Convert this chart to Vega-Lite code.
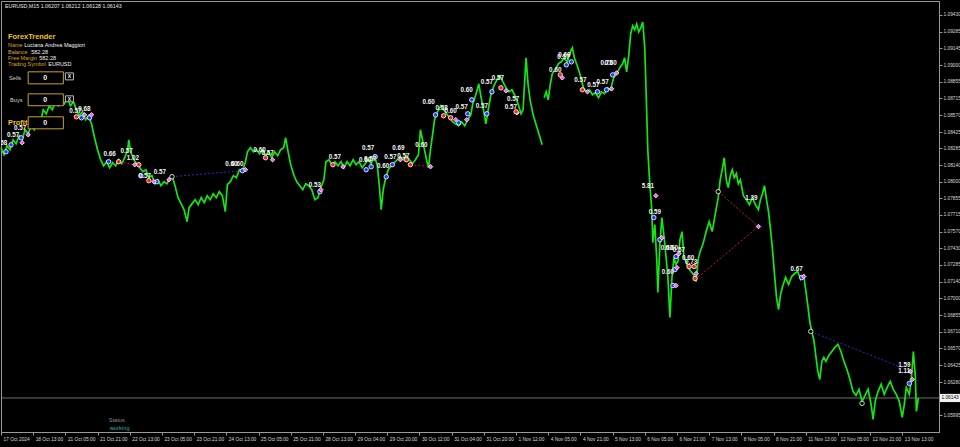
{
"$schema": "https://vega.github.io/schema/vega-lite/v6.json",
"width": 938, "height": 431,
"autosize": "none",
"padding": {"left": 1, "top": 1, "right": 21, "bottom": 15},
"background": "#000000",
"config": {"view": {"stroke": "#9a9a9a", "strokeWidth": 1}, "font": "Liberation Sans"},
"datasets": {
"price": [
{"b":0,"p":1.08291,"s":"A"},{"b":6,"p":1.08231,"s":"A"},{"b":12,"p":1.08308,"s":"A"},{"b":18,"p":1.08274,"s":"A"},{"b":24,"p":1.08359,"s":"A"},{"b":30,"p":1.08325,"s":"A"},{"b":36,"p":1.08393,"s":"A"},{"b":42,"p":1.08359,"s":"A"},{"b":48,"p":1.08445,"s":"A"},{"b":54,"p":1.08411,"s":"A"},{"b":60,"p":1.08479,"s":"A"},{"b":66,"p":1.08445,"s":"A"},{"b":72,"p":1.08531,"s":"A"},{"b":78,"p":1.08496,"s":"A"},{"b":84,"p":1.08616,"s":"A"},{"b":90,"p":1.08582,"s":"A"},{"b":96,"p":1.08651,"s":"A"},{"b":102,"p":1.08616,"s":"A"},{"b":108,"p":1.08685,"s":"A"},{"b":114,"p":1.08651,"s":"A"},{"b":120,"p":1.08702,"s":"A"},{"b":126,"p":1.08668,"s":"A"},{"b":132,"p":1.08719,"s":"A"},{"b":138,"p":1.08651,"s":"A"},{"b":144,"p":1.08685,"s":"A"},{"b":150,"p":1.08616,"s":"A"},{"b":156,"p":1.08565,"s":"A"},{"b":162,"p":1.08599,"s":"A"},{"b":168,"p":1.08531,"s":"A"},{"b":174,"p":1.08565,"s":"A"},{"b":180,"p":1.08496,"s":"A"},{"b":186,"p":1.08376,"s":"A"},{"b":192,"p":1.08274,"s":"A"},{"b":198,"p":1.08188,"s":"A"},{"b":204,"p":1.08136,"s":"A"},{"b":210,"p":1.08171,"s":"A"},{"b":216,"p":1.08119,"s":"A"},{"b":222,"p":1.08162,"s":"A"},{"b":228,"p":1.08136,"s":"A"},{"b":234,"p":1.08188,"s":"A"},{"b":240,"p":1.08154,"s":"A"},{"b":246,"p":1.08205,"s":"A"},{"b":252,"p":1.08274,"s":"A"},{"b":254,"p":1.08359,"s":"A"},{"b":258,"p":1.08256,"s":"A"},{"b":264,"p":1.08188,"s":"A"},{"b":270,"p":1.08154,"s":"A"},{"b":276,"p":1.08119,"s":"A"},{"b":282,"p":1.08085,"s":"A"},{"b":288,"p":1.08102,"s":"A"},{"b":294,"p":1.08034,"s":"A"},{"b":300,"p":1.08051,"s":"A"},{"b":306,"p":1.07982,"s":"A"},{"b":312,"p":1.08016,"s":"A"},{"b":318,"p":1.07965,"s":"A"},{"b":324,"p":1.07999,"s":"A"},{"b":330,"p":1.07982,"s":"A"},{"b":336,"p":1.08034,"s":"A"},{"b":340,"p":1.08051,"s":"A"},{"b":346,"p":1.07965,"s":"A"},{"b":352,"p":1.07862,"s":"A"},{"b":358,"p":1.07811,"s":"A"},{"b":364,"p":1.07759,"s":"A"},{"b":370,"p":1.07656,"s":"A"},{"b":374,"p":1.07776,"s":"A"},{"b":380,"p":1.07811,"s":"A"},{"b":386,"p":1.07845,"s":"A"},{"b":392,"p":1.07802,"s":"A"},{"b":398,"p":1.07862,"s":"A"},{"b":404,"p":1.07819,"s":"A"},{"b":410,"p":1.07879,"s":"A"},{"b":416,"p":1.07845,"s":"A"},{"b":422,"p":1.07896,"s":"A"},{"b":428,"p":1.07862,"s":"A"},{"b":434,"p":1.07914,"s":"A"},{"b":440,"p":1.07879,"s":"A"},{"b":446,"p":1.07742,"s":"A"},{"b":450,"p":1.07974,"s":"A"},{"b":456,"p":1.07999,"s":"A"},{"b":462,"p":1.08051,"s":"A"},{"b":468,"p":1.08034,"s":"A"},{"b":474,"p":1.08102,"s":"A"},{"b":480,"p":1.08085,"s":"A"},{"b":486,"p":1.08171,"s":"A"},{"b":490,"p":1.08256,"s":"A"},{"b":496,"p":1.08291,"s":"A"},{"b":502,"p":1.08256,"s":"A"},{"b":508,"p":1.08274,"s":"A"},{"b":514,"p":1.08239,"s":"A"},{"b":520,"p":1.08274,"s":"A"},{"b":526,"p":1.08222,"s":"A"},{"b":532,"p":1.08256,"s":"A"},{"b":538,"p":1.08205,"s":"A"},{"b":544,"p":1.08256,"s":"A"},{"b":550,"p":1.08222,"s":"A"},{"b":556,"p":1.08274,"s":"A"},{"b":562,"p":1.08291,"s":"A"},{"b":566,"p":1.08376,"s":"A"},{"b":570,"p":1.08274,"s":"A"},{"b":576,"p":1.08145,"s":"A"},{"b":582,"p":1.08059,"s":"A"},{"b":588,"p":1.07999,"s":"A"},{"b":594,"p":1.07965,"s":"A"},{"b":600,"p":1.07931,"s":"A"},{"b":606,"p":1.07982,"s":"A"},{"b":612,"p":1.07965,"s":"A"},{"b":618,"p":1.07931,"s":"A"},{"b":624,"p":1.07845,"s":"A"},{"b":630,"p":1.07862,"s":"A"},{"b":636,"p":1.07948,"s":"A"},{"b":642,"p":1.08016,"s":"A"},{"b":646,"p":1.08171,"s":"A"},{"b":652,"p":1.08188,"s":"A"},{"b":658,"p":1.08145,"s":"A"},{"b":664,"p":1.08171,"s":"A"},{"b":670,"p":1.08136,"s":"A"},{"b":676,"p":1.08171,"s":"A"},{"b":682,"p":1.08119,"s":"A"},{"b":688,"p":1.08171,"s":"A"},{"b":694,"p":1.08136,"s":"A"},{"b":700,"p":1.08188,"s":"A"},{"b":706,"p":1.08145,"s":"A"},{"b":712,"p":1.08171,"s":"A"},{"b":718,"p":1.08119,"s":"A"},{"b":724,"p":1.08154,"s":"A"},{"b":730,"p":1.08188,"s":"A"},{"b":736,"p":1.08154,"s":"A"},{"b":742,"p":1.08222,"s":"A"},{"b":748,"p":1.08145,"s":"A"},{"b":752,"p":1.07974,"s":"A"},{"b":756,"p":1.07759,"s":"A"},{"b":760,"p":1.07931,"s":"A"},{"b":764,"p":1.08016,"s":"A"},{"b":770,"p":1.08102,"s":"A"},{"b":776,"p":1.08136,"s":"A"},{"b":782,"p":1.08162,"s":"A"},{"b":788,"p":1.08188,"s":"A"},{"b":794,"p":1.08214,"s":"A"},{"b":800,"p":1.08188,"s":"A"},{"b":806,"p":1.08222,"s":"A"},{"b":812,"p":1.08188,"s":"A"},{"b":818,"p":1.08154,"s":"A"},{"b":824,"p":1.08188,"s":"A"},{"b":830,"p":1.08231,"s":"A"},{"b":834,"p":1.08445,"s":"A"},{"b":838,"p":1.08359,"s":"A"},{"b":842,"p":1.08274,"s":"A"},{"b":846,"p":1.08188,"s":"A"},{"b":850,"p":1.08119,"s":"A"},{"b":854,"p":1.08274,"s":"A"},{"b":858,"p":1.08402,"s":"A"},{"b":862,"p":1.08531,"s":"A"},{"b":868,"p":1.08599,"s":"A"},{"b":874,"p":1.08651,"s":"A"},{"b":880,"p":1.08616,"s":"A"},{"b":886,"p":1.08582,"s":"A"},{"b":892,"p":1.08548,"s":"A"},{"b":898,"p":1.08513,"s":"A"},{"b":904,"p":1.08496,"s":"A"},{"b":910,"p":1.08479,"s":"A"},{"b":916,"p":1.08513,"s":"A"},{"b":922,"p":1.08479,"s":"A"},{"b":928,"p":1.08531,"s":"A"},{"b":934,"p":1.08573,"s":"A"},{"b":938,"p":1.08668,"s":"A"},{"b":944,"p":1.08745,"s":"A"},{"b":950,"p":1.08839,"s":"A"},{"b":954,"p":1.08736,"s":"A"},{"b":960,"p":1.08599,"s":"A"},{"b":964,"p":1.08496,"s":"A"},{"b":968,"p":1.08599,"s":"A"},{"b":974,"p":1.08745,"s":"A"},{"b":980,"p":1.08822,"s":"A"},{"b":986,"p":1.08873,"s":"A"},{"b":992,"p":1.08908,"s":"A"},{"b":998,"p":1.08856,"s":"A"},{"b":1004,"p":1.08805,"s":"A"},{"b":1010,"p":1.08771,"s":"A"},{"b":1016,"p":1.08788,"s":"A"},{"b":1022,"p":1.08736,"s":"A"},{"b":1028,"p":1.08668,"s":"A"},{"b":1034,"p":1.08582,"s":"A"},{"b":1038,"p":1.08616,"s":"A"},{"b":1042,"p":1.08916,"s":"A"},{"b":1044,"p":1.09062,"s":"A"},{"b":1048,"p":1.08831,"s":"A"},{"b":1052,"p":1.08702,"s":"A"},{"b":1058,"p":1.08573,"s":"A"},{"b":1064,"p":1.08488,"s":"A"},{"b":1070,"p":1.08402,"s":"A"},{"b":1076,"p":1.08316,"s":"A"},
{"b":1080,"p":1.08719,"s":"B"},{"b":1084,"p":1.08771,"s":"B"},{"b":1088,"p":1.08702,"s":"B"},{"b":1092,"p":1.08831,"s":"B"},{"b":1096,"p":1.08925,"s":"B"},{"b":1102,"p":1.08959,"s":"B"},{"b":1108,"p":1.09011,"s":"B"},{"b":1114,"p":1.09028,"s":"B"},{"b":1120,"p":1.09062,"s":"B"},{"b":1126,"p":1.09028,"s":"B"},{"b":1132,"p":1.09113,"s":"B"},{"b":1136,"p":1.09148,"s":"B"},{"b":1140,"p":1.09062,"s":"B"},{"b":1146,"p":1.08993,"s":"B"},{"b":1152,"p":1.08908,"s":"B"},{"b":1158,"p":1.08805,"s":"B"},{"b":1164,"p":1.08771,"s":"B"},{"b":1170,"p":1.08788,"s":"B"},{"b":1176,"p":1.08745,"s":"B"},{"b":1182,"p":1.08762,"s":"B"},{"b":1188,"p":1.08719,"s":"B"},{"b":1194,"p":1.08771,"s":"B"},{"b":1200,"p":1.08753,"s":"B"},{"b":1206,"p":1.08805,"s":"B"},{"b":1212,"p":1.08788,"s":"B"},{"b":1218,"p":1.08891,"s":"B"},{"b":1224,"p":1.08925,"s":"B"},{"b":1230,"p":1.08976,"s":"B"},{"b":1236,"p":1.09011,"s":"B"},{"b":1240,"p":1.09062,"s":"B"},{"b":1244,"p":1.08942,"s":"B"},{"b":1248,"p":1.09079,"s":"B"},{"b":1252,"p":1.09268,"s":"B"},{"b":1256,"p":1.09336,"s":"B"},{"b":1260,"p":1.09302,"s":"B"},{"b":1264,"p":1.09353,"s":"B"},{"b":1268,"p":1.09285,"s":"B"},{"b":1272,"p":1.09319,"s":"B"},{"b":1276,"p":1.0937,"s":"B"},{"b":1280,"p":1.09148,"s":"B"},{"b":1284,"p":1.08573,"s":"B"},{"b":1286,"p":1.08274,"s":"B"},{"b":1290,"p":1.07974,"s":"B"},{"b":1294,"p":1.07759,"s":"B"},{"b":1296,"p":1.07476,"s":"B"},{"b":1300,"p":1.07631,"s":"B"},{"b":1304,"p":1.07314,"s":"B"},{"b":1306,"p":1.07048,"s":"B"},{"b":1310,"p":1.07459,"s":"B"},{"b":1314,"p":1.07691,"s":"B"},{"b":1320,"p":1.07459,"s":"B"},{"b":1326,"p":1.07177,"s":"B"},{"b":1330,"p":1.06834,"s":"B"},{"b":1334,"p":1.07177,"s":"B"},{"b":1338,"p":1.07348,"s":"B"},{"b":1342,"p":1.07288,"s":"B"},{"b":1346,"p":1.07314,"s":"B"},{"b":1350,"p":1.07502,"s":"B"},{"b":1354,"p":1.07571,"s":"B"},{"b":1358,"p":1.07348,"s":"B"},{"b":1362,"p":1.07314,"s":"B"},{"b":1366,"p":1.07262,"s":"B"},{"b":1372,"p":1.07228,"s":"B"},{"b":1378,"p":1.07194,"s":"B"},{"b":1382,"p":1.07142,"s":"B"},{"b":1386,"p":1.07331,"s":"B"},{"b":1390,"p":1.07399,"s":"B"},{"b":1396,"p":1.07468,"s":"B"},{"b":1402,"p":1.07571,"s":"B"},{"b":1408,"p":1.07656,"s":"B"},{"b":1414,"p":1.07571,"s":"B"},{"b":1420,"p":1.07716,"s":"B"},{"b":1426,"p":1.07862,"s":"B"},{"b":1430,"p":1.08016,"s":"B"},{"b":1434,"p":1.08102,"s":"B"},{"b":1438,"p":1.08205,"s":"B"},{"b":1442,"p":1.08016,"s":"B"},{"b":1446,"p":1.07948,"s":"B"},{"b":1450,"p":1.08051,"s":"B"},{"b":1454,"p":1.08102,"s":"B"},{"b":1458,"p":1.08034,"s":"B"},{"b":1462,"p":1.08068,"s":"B"},{"b":1466,"p":1.07982,"s":"B"},{"b":1470,"p":1.08016,"s":"B"},{"b":1476,"p":1.07879,"s":"B"},{"b":1482,"p":1.07845,"s":"B"},{"b":1488,"p":1.07802,"s":"B"},{"b":1494,"p":1.07862,"s":"B"},{"b":1500,"p":1.07802,"s":"B"},{"b":1506,"p":1.07759,"s":"B"},{"b":1510,"p":1.07845,"s":"B"},{"b":1514,"p":1.07896,"s":"B"},{"b":1518,"p":1.07965,"s":"B"},{"b":1522,"p":1.07845,"s":"B"},{"b":1526,"p":1.07742,"s":"B"},{"b":1530,"p":1.07588,"s":"B"},{"b":1534,"p":1.07416,"s":"B"},{"b":1538,"p":1.07202,"s":"B"},{"b":1542,"p":1.07005,"s":"B"},{"b":1546,"p":1.06902,"s":"B"},{"b":1550,"p":1.07031,"s":"B"},{"b":1554,"p":1.07099,"s":"B"},{"b":1560,"p":1.07177,"s":"B"},{"b":1566,"p":1.07117,"s":"B"},{"b":1572,"p":1.07185,"s":"B"},{"b":1578,"p":1.07211,"s":"B"},{"b":1584,"p":1.07228,"s":"B"},{"b":1590,"p":1.07159,"s":"B"},{"b":1596,"p":1.07194,"s":"B"},{"b":1600,"p":1.07074,"s":"B"},{"b":1604,"p":1.06945,"s":"B"},{"b":1608,"p":1.06799,"s":"B"},{"b":1612,"p":1.06714,"s":"B"},{"b":1616,"p":1.06645,"s":"B"},{"b":1620,"p":1.06508,"s":"B"},{"b":1624,"p":1.06371,"s":"B"},{"b":1628,"p":1.06302,"s":"B"},{"b":1632,"p":1.06457,"s":"B"},{"b":1636,"p":1.06491,"s":"B"},{"b":1640,"p":1.06457,"s":"B"},{"b":1646,"p":1.06508,"s":"B"},{"b":1652,"p":1.06542,"s":"B"},{"b":1658,"p":1.06577,"s":"B"},{"b":1664,"p":1.06602,"s":"B"},{"b":1670,"p":1.06542,"s":"B"},{"b":1676,"p":1.06457,"s":"B"},{"b":1682,"p":1.06388,"s":"B"},{"b":1688,"p":1.06302,"s":"B"},{"b":1694,"p":1.062,"s":"B"},{"b":1700,"p":1.06165,"s":"B"},{"b":1706,"p":1.06217,"s":"B"},{"b":1712,"p":1.06114,"s":"B"},{"b":1718,"p":1.06165,"s":"B"},{"b":1724,"p":1.06217,"s":"B"},{"b":1730,"p":1.06088,"s":"B"},{"b":1734,"p":1.0596,"s":"B"},{"b":1738,"p":1.06114,"s":"B"},{"b":1744,"p":1.062,"s":"B"},{"b":1750,"p":1.0626,"s":"B"},{"b":1756,"p":1.06174,"s":"B"},{"b":1762,"p":1.06234,"s":"B"},{"b":1768,"p":1.06285,"s":"B"},{"b":1774,"p":1.06217,"s":"B"},{"b":1780,"p":1.06174,"s":"B"},{"b":1786,"p":1.06114,"s":"B"},{"b":1792,"p":1.05977,"s":"B"},{"b":1796,"p":1.06088,"s":"B"},{"b":1800,"p":1.06234,"s":"B"},{"b":1806,"p":1.06174,"s":"B"},{"b":1810,"p":1.06302,"s":"B"},{"b":1814,"p":1.06542,"s":"B"},{"b":1818,"p":1.0632,"s":"B"},{"b":1820,"p":1.06028,"s":"B"},{"b":1824,"p":1.06143,"s":"B"}
],
"marks": [
{"b":10,"p":1.08256,"k":"b"},{"b":20,"p":1.08316,"k":"b"},{"b":40,"p":1.08376,"k":"b"},{"b":160,"p":1.08548,"k":"b"},{"b":176,"p":1.08548,"k":"b"},{"b":214,"p":1.08171,"k":"b"},{"b":278,"p":1.08051,"k":"b"},{"b":310,"p":1.07999,"k":"b"},{"b":480,"p":1.08094,"k":"b"},{"b":634,"p":1.07914,"k":"b"},{"b":726,"p":1.08102,"k":"b"},{"b":736,"p":1.08128,"k":"b"},{"b":744,"p":1.08214,"k":"b"},{"b":766,"p":1.08042,"k":"b"},{"b":778,"p":1.08145,"k":"b"},{"b":864,"p":1.08573,"k":"b"},{"b":910,"p":1.08505,"k":"b"},{"b":928,"p":1.08582,"k":"b"},{"b":936,"p":1.08702,"k":"b"},{"b":966,"p":1.08582,"k":"b"},{"b":976,"p":1.08771,"k":"b"},{"b":1124,"p":1.09002,"k":"b"},{"b":1134,"p":1.09028,"k":"b"},{"b":1186,"p":1.08771,"k":"b"},{"b":1204,"p":1.08788,"k":"b"},{"b":1216,"p":1.08916,"k":"b"},{"b":1298,"p":1.07691,"k":"b"},{"b":1310,"p":1.07502,"k":"b"},{"b":1342,"p":1.07357,"k":"b"},{"b":1340,"p":1.07245,"k":"b"},{"b":1336,"p":1.07108,"k":"b"},{"b":1592,"p":1.07177,"k":"b"},{"b":1806,"p":1.06268,"k":"b"},
{"b":42,"p":1.08334,"k":"p"},{"b":54,"p":1.08402,"k":"p"},{"b":166,"p":1.08573,"k":"p"},{"b":180,"p":1.08573,"k":"p"},{"b":266,"p":1.08145,"k":"p"},{"b":304,"p":1.07999,"k":"p"},{"b":334,"p":1.08016,"k":"p"},{"b":486,"p":1.08102,"k":"p"},{"b":540,"p":1.08188,"k":"p"},{"b":636,"p":1.07931,"k":"p"},{"b":680,"p":1.08128,"k":"p"},{"b":794,"p":1.08188,"k":"p"},{"b":854,"p":1.08128,"k":"p"},{"b":904,"p":1.08531,"k":"p"},{"b":926,"p":1.08531,"k":"p"},{"b":1004,"p":1.08779,"k":"p"},{"b":1026,"p":1.08591,"k":"p"},{"b":1116,"p":1.08891,"k":"p"},{"b":1166,"p":1.08771,"k":"p"},{"b":1214,"p":1.08796,"k":"p"},{"b":1224,"p":1.08933,"k":"p"},{"b":1302,"p":1.07879,"k":"p"},{"b":1314,"p":1.07519,"k":"p"},{"b":1348,"p":1.07382,"k":"p"},{"b":1344,"p":1.07262,"k":"p"},{"b":1342,"p":1.07108,"k":"p"},{"b":1382,"p":1.07211,"k":"p"},{"b":1506,"p":1.07614,"k":"p"},{"b":1596,"p":1.07185,"k":"p"},{"b":1812,"p":1.06302,"k":"p"},{"b":1808,"p":1.06371,"k":"p"},
{"b":150,"p":1.08556,"k":"r"},{"b":234,"p":1.08171,"k":"r"},{"b":274,"p":1.08145,"k":"r"},{"b":294,"p":1.08008,"k":"r"},{"b":526,"p":1.08205,"k":"r"},{"b":660,"p":1.08145,"k":"r"},{"b":806,"p":1.08188,"k":"r"},{"b":814,"p":1.08145,"k":"r"},{"b":880,"p":1.08565,"k":"r"},{"b":894,"p":1.08548,"k":"r"},{"b":994,"p":1.08805,"k":"r"},{"b":1024,"p":1.08599,"k":"r"},{"b":1112,"p":1.08916,"k":"r"},{"b":1156,"p":1.08788,"k":"r"},{"b":1368,"p":1.07271,"k":"r"},{"b":1378,"p":1.07271,"k":"r"},{"b":1380,"p":1.07168,"k":"r"},
{"b":340,"p":1.08042,"k":"w"},{"b":1426,"p":1.07914,"k":"w"},{"b":1610,"p":1.06714,"k":"w"},{"b":1712,"p":1.06097,"k":"w"}
],
"labels": [
{"b":0,"p":1.08334,"t":"0.58"},{"b":24,"p":1.08402,"t":"0.57"},{"b":38,"p":1.08462,"t":"0.57"},{"b":148,"p":1.08608,"t":"0.57"},{"b":166,"p":1.08625,"t":"0.68"},{"b":216,"p":1.08239,"t":"0.66"},{"b":250,"p":1.08265,"t":"0.57"},{"b":262,"p":1.08205,"t":"1.02"},{"b":286,"p":1.08051,"t":"0.57"},{"b":316,"p":1.08085,"t":"0.57"},{"b":458,"p":1.08154,"t":"0.60"},{"b":470,"p":1.08154,"t":"0.60"},{"b":514,"p":1.08274,"t":"0.60"},{"b":530,"p":1.08248,"t":"0.57"},{"b":624,"p":1.07974,"t":"0.53"},{"b":664,"p":1.08214,"t":"0.57"},{"b":724,"p":1.08188,"t":"0.60"},{"b":734,"p":1.08196,"t":"0.57"},{"b":730,"p":1.08291,"t":"0.57"},{"b":760,"p":1.08136,"t":"0.60"},{"b":774,"p":1.08214,"t":"0.57"},{"b":790,"p":1.08291,"t":"0.69"},{"b":800,"p":1.08222,"t":"0.57"},{"b":836,"p":1.08316,"t":"0.60"},{"b":850,"p":1.08685,"t":"0.60"},{"b":876,"p":1.08633,"t":"0.58"},{"b":894,"p":1.08608,"t":"0.60"},{"b":916,"p":1.08642,"t":"0.57"},{"b":926,"p":1.08788,"t":"0.60"},{"b":956,"p":1.08651,"t":"0.57"},{"b":966,"p":1.08856,"t":"0.57"},{"b":988,"p":1.08891,"t":"0.57"},{"b":1018,"p":1.08711,"t":"0.57"},{"b":1014,"p":1.08642,"t":"0.57"},{"b":1102,"p":1.08959,"t":"0.60"},{"b":1118,"p":1.09071,"t":"0.57"},{"b":1120,"p":1.09088,"t":"0.60"},{"b":1152,"p":1.08873,"t":"0.57"},{"b":1178,"p":1.08831,"t":"0.57"},{"b":1196,"p":1.08856,"t":"0.57"},{"b":1204,"p":1.09019,"t":"0.75"},{"b":1212,"p":1.09019,"t":"0.60"},{"b":1286,"p":1.07965,"t":"5.81"},{"b":1300,"p":1.07742,"t":"0.59"},{"b":1324,"p":1.07434,"t":"0.60"},{"b":1334,"p":1.07434,"t":"0.60"},{"b":1348,"p":1.07417,"t":"0.57"},{"b":1366,"p":1.07348,"t":"0.60"},{"b":1372,"p":1.07314,"t":"0.73"},{"b":1326,"p":1.07228,"t":"0.60"},{"b":1492,"p":1.07862,"t":"1.39"},{"b":1582,"p":1.07254,"t":"0.67"},{"b":1796,"p":1.06422,"t":"1.59"},{"b":1796,"p":1.06371,"t":"1.11"}
],
"links": [
{"g":"1","k":"blue","b":340,"p":1.08042},{"g":"1","k":"blue","b":480,"p":1.08094},
{"g":"2","k":"red","b":236,"p":1.08171},{"g":"2","k":"red","b":264,"p":1.08145},
{"g":"3","k":"red","b":814,"p":1.08145},{"g":"3","k":"red","b":854,"p":1.08128},
{"g":"4","k":"red","b":1426,"p":1.07914},{"g":"4","k":"red","b":1506,"p":1.07614},
{"g":"5","k":"red","b":1380,"p":1.07159},{"g":"5","k":"red","b":1506,"p":1.07614},
{"g":"6","k":"blue","b":1610,"p":1.06714},{"g":"6","k":"blue","b":1810,"p":1.06371}
],
"panel": [
{"t":"EURUSD,M15  1.06207 1.06212 1.06128 1.06143","b":8,"p":1.09508,"r":"head"},
{"t":"ForexTrender","b":14,"p":1.09239,"r":"title"},
{"t":"Name","b":14,"p":1.09173,"r":"key"},
{"t":"Luciana Andrea Maggiori","b":46,"p":1.09173,"r":"val"},
{"t":"Balance","b":14,"p":1.09116,"r":"key"},
{"t":"582.28","b":60,"p":1.09116,"r":"val"},
{"t":"Free Margin","b":14,"p":1.09062,"r":"key"},
{"t":"582.28","b":76,"p":1.09062,"r":"val"},
{"t":"Trading Symbol","b":14,"p":1.09008,"r":"key"},
{"t":"EURUSD","b":94,"p":1.09008,"r":"val"},
{"t":"Sells","b":16,"p":1.08891,"r":"label"},
{"t":"0","b":88,"p":1.08891,"r":"zero"},
{"t":"Buys","b":18,"p":1.08702,"r":"label"},
{"t":"0","b":88,"p":1.08702,"r":"zero"},
{"t":"Profit","b":14,"p":1.08505,"r":"title"},
{"t":"0","b":88,"p":1.08505,"r":"zero"},
{"t":"X","b":136,"p":1.08903,"r":"btn"},
{"t":"X","b":136,"p":1.08711,"r":"btn"},
{"t":"Status","b":214,"p":1.05951,"r":"stat"},
{"t":"working","b":216,"p":1.05882,"r":"work"}
],
"boxes": [
{"b":54,"b2":124,"p":1.08942,"p2":1.08839,"r":"field"},
{"b":54,"b2":124,"p":1.08753,"p2":1.08651,"r":"field"},
{"b":54,"b2":124,"p":1.08556,"p2":1.08453,"r":"field"},
{"b":128,"b2":144,"p":1.08933,"p2":1.08873,"r":"btn"},
{"b":128,"b2":144,"p":1.08736,"p2":1.08685,"r":"btn"}
]
},
"encoding": {
"x": {"field": "b", "type": "quantitative", "scale": {"domain": [0, 1865], "nice": false, "zero": false},
 "axis": {"title": null, "grid": false, "values": [0,64,128,192,256,320,384,448,512,576,640,704,768,832,896,960,1024,1088,1152,1216,1280,1344,1408,1472,1536,1600,1664,1728,1792],
  "labelExpr": "['17 Oct 2024','18 Oct 13:00','21 Oct 05:00','21 Oct 21:00','22 Oct 13:00','23 Oct 05:00','23 Oct 21:00','24 Oct 13:00','25 Oct 05:00','25 Oct 21:00','28 Oct 13:00','29 Oct 04:00','29 Oct 20:00','30 Oct 12:00','31 Oct 04:00','31 Oct 20:00','1 Nov 12:00','4 Nov 05:00','4 Nov 21:00','5 Nov 13:00','6 Nov 05:00','6 Nov 21:00','7 Nov 13:00','8 Nov 05:00','8 Nov 21:00','11 Nov 13:00','12 Nov 05:00','12 Nov 21:00','13 Nov 13:00'][round(datum.value/64)]",
  "domainColor": "#9a9a9a", "tickColor": "#9a9a9a", "tickSize": 3, "labelColor": "#d8d8d8", "labelFontSize": 4.8, "labelFont": "Liberation Sans",
  "labelAlign": "left", "labelBaseline": "top", "labelPadding": 1, "labelOffset": 2, "labelOverlap": false, "labelBound": false, "labelFlush": false}},
"y": {"field": "p", "type": "quantitative", "scale": {"domain": [1.05851, 1.0955], "nice": false, "zero": false},
 "axis": {"title": null, "orient": "right", "grid": false, "format": ".5f",
  "values": [1.0943,1.09285,1.09145,1.09,1.08855,1.08715,1.0857,1.08425,1.08285,1.0814,1.08,1.07855,1.07715,1.0757,1.0743,1.07285,1.0714,1.07,1.06855,1.0671,1.0657,1.06425,1.0628,1.0614,1.05995,1.0585],
  "domainColor": "#9a9a9a", "tickColor": "#9a9a9a", "tickSize": 3, "labelColor": "#d8d8d8", "labelFontSize": 4.8, "labelFont": "Liberation Sans",
  "labelPadding": 1, "labelOverlap": false, "labelBound": false, "labelFlush": false}}
},
"layer": [
{"data": {"values": [{"b": 0, "b2": 1865, "p": 1.06143}]},
 "mark": {"type": "rule", "color": "#8a8a8a", "strokeWidth": 0.8},
 "encoding": {"x2": {"field": "b2"}}},
{"data": {"name": "price"},
 "mark": {"type": "line", "color": "#14e614", "strokeWidth": 1.7},
 "encoding": {"detail": {"field": "s"}}},
{"data": {"name": "links"},
 "mark": {"type": "line", "strokeWidth": 1, "strokeDash": [2, 2]},
 "encoding": {"detail": {"field": "g"}, "color": {"field": "k", "type": "nominal", "legend": null, "scale": {"domain": ["blue", "red"], "range": ["#2030c8", "#d01818"]}}}},
{"data": {"name": "marks"},
 "mark": {"type": "point", "filled": true, "stroke": "#ffffff", "strokeWidth": 0.8, "opacity": 1, "size": 20},
 "encoding": {"color": {"field": "k", "type": "nominal", "legend": null, "scale": {"domain": ["b", "p", "r", "w"], "range": ["#2040ff", "#ff55ff", "#ff2020", "#000000"]}},
  "shape": {"field": "k", "type": "nominal", "legend": null, "scale": {"domain": ["b", "p", "r", "w"], "range": ["circle", "diamond", "circle", "circle"]}}}},
{"data": {"name": "labels"},
 "mark": {"type": "text", "color": "#f4f4f4", "fontSize": 6.3, "fontWeight": "bold", "align": "center", "baseline": "middle", "clip": true},
 "encoding": {"text": {"field": "t"}}},
{"data": {"name": "boxes"},
 "mark": {"type": "rect", "fill": "#000000", "strokeWidth": 1},
 "encoding": {"x2": {"field": "b2"}, "y2": {"field": "p2"}, "stroke": {"field": "r", "type": "nominal", "legend": null, "scale": {"domain": ["field", "btn"], "range": ["#c9a227", "#bdbdbd"]}}}},
{"data": {"name": "panel"},
 "transform": [{"filter": "indexof(['head','key','val','label','stat','work'], datum.r) >= 0"}],
 "mark": {"type": "text", "align": "left", "baseline": "middle"},
 "encoding": {"text": {"field": "t"},
  "color": {"field": "r", "type": "nominal", "legend": null, "scale": {"domain": ["head", "key", "val", "label", "stat", "work"], "range": ["#e6e6e6", "#d9a520", "#f0f0f0", "#cfcfcf", "#8c8c8c", "#22b5b0"]}},
  "size": {"field": "r", "type": "nominal", "legend": null, "scale": {"domain": ["head", "key", "val", "label", "stat", "work"], "range": [5.3, 5.8, 6.8, 7, 5, 8.5]}}}},
{"data": {"name": "panel"},
 "transform": [{"filter": "datum.r == 'title'"}],
 "mark": {"type": "text", "align": "left", "baseline": "middle", "fontWeight": "bold", "fontSize": 7.4, "color": "#f2c418"},
 "encoding": {"text": {"field": "t"}}},
{"data": {"name": "panel"},
 "transform": [{"filter": "datum.r == 'zero' || datum.r == 'btn'"}],
 "mark": {"type": "text", "align": "center", "baseline": "middle", "fontWeight": "bold", "color": "#f4f4f4"},
 "encoding": {"text": {"field": "t"},
  "size": {"field": "r", "type": "nominal", "legend": null, "scale": {"domain": ["zero", "btn"], "range": [7, 5]}}}},
{"data": {"values": [{"b": 1867, "b2": 1907, "p": 1.06108, "p2": 1.06178}]},
 "mark": {"type": "rect", "fill": "#f2f2f2"},
 "encoding": {"x2": {"field": "b2"}, "y2": {"field": "p2"}}},
{"data": {"values": [{"b": 1887, "p": 1.06143, "t": "1.06143"}]},
 "mark": {"type": "text", "align": "center", "baseline": "middle", "fontSize": 4.8, "color": "#000000"},
 "encoding": {"text": {"field": "t"}}}
],
"resolve": {"scale": {"color": "independent", "size": "independent", "shape": "independent", "stroke": "independent"}}
}
